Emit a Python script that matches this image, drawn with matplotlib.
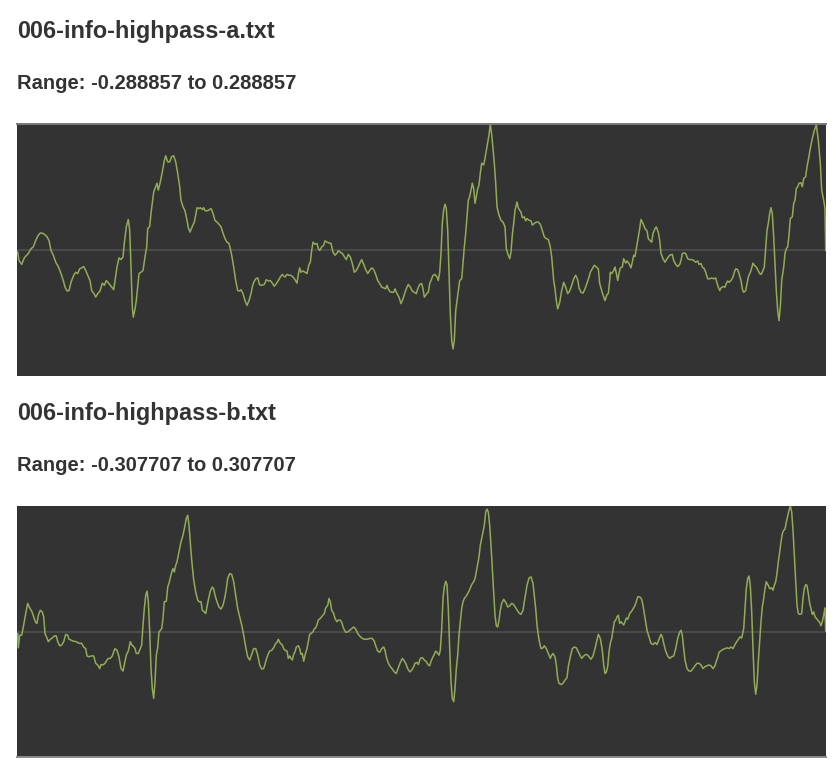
import matplotlib
matplotlib.use("Agg")
import matplotlib.pyplot as plt

# file names and their symmetric ranges
file_names = ["006-info-highpass-a.txt", "006-info-highpass-b.txt"]
ranges = [0.288857, 0.307707]

# samples: position (sample index) and amplitude
a_t = [0.7, 2, 4.7, 7.3, 11.3, 14, 16.3, 18.7, 21.3, 23.3,
       26.3, 29.7, 32, 34, 36.3, 38.7, 41.3, 44, 46.3, 48,
       50, 52, 54, 56.7, 58.7, 60.7, 62.7, 64.7, 66.7, 68.7,
       70.7, 73, 74.7, 76.7, 78.7, 80.7, 83, 85.3, 87.3, 89.3,
       92, 94.7, 96.7, 98, 100, 102, 104, 106, 107.3, 109.3,
       111.3, 112.7, 114, 115.3, 116.3, 118, 119.3, 120.7, 122, 124,
       126, 128, 129.7, 130.7, 132.7, 134, 135.3, 136.7, 138, 140,
       141.3, 143.3, 145.3, 147.3, 148.7, 150.7, 152.7, 154.7, 156.7, 158.7,
       160.7, 162.7, 164, 166, 168, 170, 171.3, 173, 174.7, 177.3,
       178.7, 180, 182, 183.3, 185.3, 186.7, 188, 190.7, 192.7, 194,
       196, 198, 200, 202, 204, 206, 208, 210, 212, 213.3,
       214.7, 216.7, 218.7, 220.7, 222.7, 224, 226, 228, 230, 232,
       234, 235.3, 236.7, 238.7, 240.7, 242.7, 244.7, 247.3, 249.3, 251.3,
       253.3, 255.3, 257.3, 259.3, 261.3, 263.3, 265.3, 267.3,
       268, 270, 272, 274, 276, 278, 280, 281.3, 282.7, 284,
       286, 288, 290, 292, 293.3, 294.7, 296, 298, 300, 301.3,
       302.7, 304.7, 306.7, 308, 310, 312, 314, 316, 318, 320,
       321.3, 323.3, 325.3, 327.3, 329.3, 331.3, 333.3, 335.3, 337.3, 339.3,
       341.3, 343.3, 344.7, 346.7, 348.7, 350.7, 352.7, 354.7, 356.7, 358.7,
       360.7, 362.7, 364.7, 366.7, 368.7, 370, 371.3, 372.7, 374.7, 376.7,
       378, 380, 382, 384, 386, 388, 390, 391.3, 393.3, 395.3,
       397.3, 399.3, 400.7, 402.7, 404.7, 406, 407.3, 408.7, 410, 411.3,
       412.7, 414, 416, 418, 420, 421.3, 422.7, 424, 425.3, 426.7,
       428, 429.3, 430.7, 432, 433.3, 434.7, 436, 437.3, 438.7, 440,
       441.3, 442.7, 444.7, 446, 447.3, 448.7, 450, 451.3, 452.7, 454,
       455.3, 456.7, 458, 459.3, 460.7, 462, 463.3, 464.7, 466.7, 468,
       470, 472, 473.3, 474.7, 476, 477.3, 478.7, 480, 482, 484,
       486, 488, 489.3, 490.7, 492.7, 494, 495.3, 496.7, 498, 500,
       501.3, 502.7, 504, 505.3, 507.3, 508.7, 510, 512, 514, 515.3,
       517.3, 519.3, 521.3, 523.3, 525.3, 527.3, 529.3, 531.3, 533.3, 534.7,
       536.7,
       538, 539.3, 540.7, 542.7, 544.7, 546.7, 548.7, 550.7, 552.7, 554.7,
       556.7, 558.7, 560.7, 562, 564, 566, 568, 570, 572, 573.3,
       575.3, 577.3, 579.3, 581.3, 582.7, 584.7, 586.7, 588, 590, 591.3,
       592.7, 593.3, 594.7, 596.7, 598, 599.3, 600.7, 602, 603.3, 605.3,
       606.7, 608.7, 610, 612, 614, 615.3, 616.7, 618, 619.3, 620.7,
       622.7, 624, 626, 628, 630, 631.3, 633.3, 634.7, 636, 638,
       639.3, 641.3, 642.7, 644, 646, 648, 650, 652.7, 655.3, 656.7,
       658.7, 660.7, 662.7, 664, 665.3, 667.3, 668.7, 670.7, 672.7, 674.7,
       676.7, 678.7, 680.7, 682, 684, 685.3, 687.3, 688.7, 690.7, 692.7,
       694.7, 696.7, 698.7, 700, 701.3, 702.7, 704, 706, 708, 709.3,
       710.7, 712, 714, 716, 717.3, 718.7, 720.7, 722, 724, 725.3,
       726.7, 728.7, 730, 731.3, 732.7, 734, 736, 737.3, 739.3, 740.7,
       742.7, 744, 745.3, 747.3, 748.7, 750, 751.3, 752.7, 754, 755.3,
       756.7, 758, 759.3, 760.7, 762, 763.3, 764.7, 766.7, 768, 769.3,
       770.7, 772, 773.3, 775.3, 776.7, 778, 779.3, 780.7, 782, 784,
       785.3, 786.7, 788.7, 790, 791.3, 793.3, 795.3, 797.3, 799.3, 801.3,
       803.3, 804.7, 806.7, 808, 808.7]

a_v = [-0.005, -0.024, -0.033, -0.018, -0.008, 0.003, 0.007, 0.022, 0.034, 0.039,
       0.038, 0.031, 0.022, -0.001, -0.012, -0.028, -0.038, -0.054, -0.070, -0.085,
       -0.094, -0.093, -0.074, -0.058, -0.051, -0.054, -0.043, -0.041, -0.038, -0.047,
       -0.058, -0.070, -0.093, -0.099, -0.108, -0.100, -0.094, -0.076, -0.081, -0.070,
       -0.077, -0.085, -0.091, -0.070, -0.039, -0.018, -0.022, -0.016, 0.015, 0.053,
       0.070, 0.045, -0.039, -0.131, -0.154, -0.135, -0.116, -0.085, -0.054, -0.051,
       -0.047, -0.016, 0.007, 0.049, 0.054, 0.084, 0.107, 0.133, 0.141, 0.153,
       0.137, 0.156, 0.179, 0.205, 0.216, 0.202, 0.202, 0.214, 0.216, 0.202,
       0.176, 0.145, 0.114, 0.099, 0.090, 0.068, 0.051, 0.041, 0.051, 0.064,
       0.080, 0.097, 0.095, 0.097, 0.093, 0.097, 0.090, 0.090, 0.093, 0.095,
       0.084, 0.068, 0.064, 0.059, 0.053, 0.039, 0.026, 0.018, 0.015, 0.003,
       -0.012, -0.039, -0.070, -0.093, -0.094, -0.091, -0.100, -0.116, -0.127, -0.116,
       -0.100, -0.085, -0.074, -0.066, -0.064, -0.080, -0.081, -0.079, -0.068, -0.071,
       -0.070, -0.076, -0.083, -0.077, -0.070, -0.062, -0.056, -0.061,
       -0.062, -0.056, -0.058, -0.058, -0.062, -0.068, -0.076, -0.056, -0.041, -0.051,
       -0.048, -0.051, -0.054, -0.033, -0.028, -0.001, 0.018, 0.013, 0.015, 0.003,
       -0.001, 0.007, 0.011, 0.021, 0.018, 0.016, 0.015, -0.005, -0.012, -0.007,
       -0.002, -0.005, -0.008, -0.015, -0.022, -0.010, -0.016, -0.031, -0.051, -0.047,
       -0.038, -0.028, -0.022, -0.033, -0.045, -0.054, -0.047, -0.041, -0.045, -0.056,
       -0.070, -0.077, -0.085, -0.087, -0.089, -0.081, -0.089, -0.095, -0.097, -0.097,
       -0.089, -0.100, -0.108, -0.123, -0.112, -0.097, -0.085, -0.079, -0.085, -0.094,
       -0.097, -0.100, -0.089, -0.079, -0.077, -0.089, -0.108, -0.104, -0.099, -0.097,
       -0.077, -0.070, -0.058, -0.056, -0.062, -0.070, -0.051, -0.008, 0.061, 0.093,
       0.105, 0.095, 0.045, -0.047, -0.146, -0.208, -0.227, -0.208, -0.139, -0.116,
       -0.093, -0.070, -0.066, -0.031, 0.007, 0.038, 0.076, 0.114, 0.123, 0.137,
       0.153, 0.141, 0.107, 0.122, 0.141, 0.149, 0.176, 0.199, 0.195, 0.210,
       0.237, 0.264, 0.2889, 0.264, 0.233, 0.199, 0.153, 0.099, 0.080, 0.068,
       0.064, 0.053, 0.003, -0.008, -0.020, -0.005, 0.034, 0.061, 0.091, 0.110,
       0.097, 0.091, 0.087, 0.074, 0.076, 0.067, 0.072, 0.068, 0.067, 0.057,
       0.061, 0.064, 0.064, 0.059, 0.045, 0.030, 0.026, 0.024, 0.007, -0.016,
       -0.070,
       -0.089, -0.116, -0.135, -0.120, -0.093, -0.074, -0.085, -0.100, -0.094, -0.081,
       -0.066, -0.058, -0.068, -0.087, -0.097, -0.099, -0.089, -0.076, -0.062, -0.051,
       -0.043, -0.035, -0.039, -0.043, -0.077, -0.093, -0.108, -0.116, -0.102, -0.100,
       -0.070, -0.051, -0.054, -0.047, -0.039, -0.053, -0.070, -0.054, -0.041, -0.039,
       -0.020, -0.030, -0.025, -0.031, -0.041, -0.028, -0.012, -0.015, 0.003, 0.022,
       0.049, 0.070, 0.061, 0.049, 0.044, 0.026, 0.021, 0.018, 0.038, 0.049,
       0.053, 0.041, 0.022, -0.008, -0.020, -0.028, -0.020, -0.012, -0.010, -0.024,
       -0.033, -0.038, -0.033, -0.024, -0.008, -0.007, -0.008, -0.020, -0.022, -0.022,
       -0.024, -0.028, -0.025, -0.033, -0.031, -0.039, -0.043, -0.051, -0.066, -0.066,
       -0.064, -0.066, -0.064, -0.076, -0.085, -0.093, -0.087, -0.084, -0.085, -0.077,
       -0.071, -0.074, -0.070, -0.062, -0.051, -0.043, -0.045, -0.054, -0.070, -0.089,
       -0.097, -0.093, -0.077, -0.062, -0.054, -0.047, -0.030, -0.035, -0.039, -0.045,
       -0.054, -0.056, -0.051, -0.039, 0.003, 0.045, 0.061, 0.084, 0.097, 0.084,
       0.030, -0.031, -0.093, -0.139, -0.162, -0.131, -0.070, -0.039, -0.008, 0.003,
       0.007, 0.034, 0.072, 0.076, 0.107, 0.114, 0.141, 0.145, 0.153, 0.154,
       0.145, 0.164, 0.168, 0.191, 0.206, 0.233, 0.256, 0.274, 0.287, 0.252,
       0.199, 0.137, 0.114, 0.095, -0.001]

b_t = [0.7, 1.3, 2.7, 4.7, 6.7, 8.7, 10.7, 12.7, 14.7, 16.7,
       18.7, 20, 21.3, 23.3, 25.3, 26.7, 28, 30, 31.3, 33.3,
       35.3, 37.3, 39.3, 40.7, 42.7, 44.7, 46.7, 48.7, 50.7, 52,
       54, 56.7, 59.3, 62, 64.7, 66.7, 68.7, 70, 72, 74,
       76.7, 78.7, 80.7, 82.7, 84, 86, 88, 90, 91.3, 93.3,
       95.3, 96.7, 98, 100, 102, 104, 106, 107.3, 109.3, 111.3,
       113.3, 114.7, 116, 118, 119.3, 121.3, 123.3, 124.7, 126, 127.3,
       128.7, 130, 131.3, 132.7, 134, 135.3, 136.7, 138, 139.3, 140.7,
       142, 143.3, 144.7, 146, 147.3, 149.3, 150.7, 152, 153.3, 154.7,
       156, 157.3, 158.7, 160, 161.3, 162.7, 164, 166, 168, 169.3,
       170.7, 172, 173.3, 174.7, 176.7, 178.7, 180.7, 182, 184, 185.3,
       187.3, 188.7, 190, 191.3, 193.3, 195.3, 196.7, 198, 200, 202,
       204, 206, 208, 209.3, 210.7, 212.7, 214.7, 216.7, 218, 219.3,
       220.7, 222.7, 224.7, 226.7, 228.7, 230.7, 232.7, 234.7, 236.7, 238.7,
       240.7, 242.7, 244.7, 246.7, 248.7, 250.7, 252.7, 254.7, 256.7, 258.7,
       260, 261.3, 263.3, 265.3, 266.7,
       268, 270, 271.3, 272.7, 274, 275.3, 276.7, 278, 279.3, 281.3,
       282.7, 284, 285.3, 286.7, 288, 290, 291.3, 292.7, 294, 296,
       297.3, 298.7, 300, 301.3, 303.3, 305.3, 307.3, 308.7, 310.7, 312,
       313.3, 314.7, 316.7, 318, 320, 321.3, 323.3, 324.7, 326.7, 328.7,
       330.7, 332.7, 334.7, 336.7, 338.7, 340.7, 342.7, 344.7, 347.3, 350,
       352.7, 355.3, 357.3, 358.7, 360.7, 362.7, 364.7, 366.7, 368, 369.3,
       371.3, 373.3, 375.3, 377.3, 379.3, 381.3, 383.3, 385.3, 386.7, 388.7,
       390.7, 392.7, 394.7, 396.7, 398, 400, 401.3, 403.3, 405.3, 407.3,
       409.3, 411.3, 412.7, 414, 416, 417.3, 418.7, 420, 422, 423.3,
       424.7, 426, 427.3, 428.7, 430, 431.3, 432.7, 434, 435.3, 436.7,
       438, 439.3, 440.7, 442, 443.3, 444.7, 446, 447.3, 449.3, 450.7,
       452, 453.3, 454.7, 456.7, 458, 459.3, 460.7, 462, 463.3, 464.7,
       466, 467.3, 468.7, 470, 471.3, 472.7, 474, 475.3, 476.7, 478,
       479.3, 480.7, 482, 483.3, 484.7, 486.7, 488, 489.3, 490.7, 492.7,
       494.7, 496.7, 498.7, 500.7, 502.7, 504, 506, 507.3, 508.7, 510,
       512, 514, 516, 517.3, 518.7, 520, 521.3, 522.7, 524, 526,
       527.3, 529.3, 531.3, 533.3, 534.7, 536,
       538, 539.3, 540.7, 542, 544, 546, 548, 550, 551.3, 553.3,
       555.3, 557.3, 559.3, 561.3, 563.3, 564.7, 566.7, 568.7, 570.7, 572.7,
       574, 576, 578, 580, 581.3, 583.3, 585.3, 586.7, 588, 589.3,
       590.7, 592, 593.3, 594.7, 596, 597.3, 598.7, 600, 601.3, 602.7,
       604, 605.3, 606.7, 608, 609.3, 610.7, 612.7, 614.7, 616.7, 618,
       619.3, 620.7, 622.7, 624.7, 626, 627.3, 628.7, 630, 632, 634,
       636, 638, 640, 642, 644, 645.3, 646.7, 648.7, 650.7, 652.7,
       654.7, 656.7, 658.7, 660.7, 662.7, 664, 665.3, 666.7, 668, 670,
       672, 674, 676, 678, 680, 682, 684, 686, 688, 690,
       692, 694, 696, 698, 699.3, 700.7, 702, 704, 706, 708,
       710, 712, 714, 716, 718, 720, 722, 723.3, 724.7, 726.7,
       728, 729.3, 730.7, 732, 733.3, 734.7, 736, 737.3, 738.7, 740,
       741.3, 742.7, 744, 745.3, 746.7, 748, 749.3, 751.3, 752.7, 754.7,
       756, 757.3, 758.7, 760, 761.3, 762.7, 764, 765.3, 766.7, 768,
       769.3, 770.7, 772, 773.3, 774.7, 776, 777.3, 778.7, 780, 781.3,
       782.7, 784.7, 786, 787.3, 788.7, 790, 791.3, 792.7, 794, 795.3,
       796.7, 798, 799.3, 800.7, 802.7, 804, 805.3, 806.7, 808, 808.7]

b_v = [-0.005, -0.040, -0.009, -0.009, 0.016, 0.044, 0.069, 0.058, 0.050, 0.036,
       0.022, 0.020, 0.040, 0.052, 0.048, 0.036, -0.005, -0.016, -0.025, -0.019,
       -0.016, -0.011, -0.011, -0.025, -0.035, -0.033, -0.025, -0.007, -0.009, -0.019,
       -0.021, -0.024, -0.025, -0.029, -0.029, -0.038, -0.042, -0.060, -0.062, -0.060,
       -0.060, -0.078, -0.082, -0.091, -0.081, -0.082, -0.078, -0.070, -0.066, -0.066,
       -0.060, -0.050, -0.042, -0.046, -0.062, -0.091, -0.097, -0.082, -0.058, -0.048,
       -0.025, -0.033, -0.035, -0.042, -0.054, -0.054, -0.042, -0.033, 0.016, 0.056,
       0.089, 0.099, 0.073, -0.001, -0.091, -0.140, -0.164, -0.123, -0.058, -0.040,
       -0.001, 0.003, 0.007, 0.032, 0.073, 0.074, 0.109, 0.118, 0.131, 0.146,
       0.154, 0.146, 0.162, 0.171, 0.187, 0.203, 0.220, 0.236, 0.260, 0.277,
       0.285, 0.260, 0.220, 0.175, 0.126, 0.097, 0.077, 0.073, 0.073, 0.052,
       0.048, 0.044, 0.060, 0.077, 0.099, 0.109, 0.104, 0.089, 0.073, 0.060,
       0.055, 0.064, 0.085, 0.105, 0.130, 0.142, 0.140, 0.122, 0.101, 0.081,
       0.056, 0.036, 0.016, -0.009, -0.038, -0.062, -0.070, -0.056, -0.042, -0.042,
       -0.058, -0.082, -0.092, -0.091, -0.074, -0.058, -0.048, -0.046, -0.040, -0.029,
       -0.027, -0.019, -0.029, -0.033, -0.042,
       -0.046, -0.048, -0.066, -0.060, -0.066, -0.070, -0.056, -0.050, -0.038, -0.035,
       -0.042, -0.056, -0.054, -0.073, -0.058, -0.042, -0.025, -0.007, -0.005, -0.001,
       0.007, 0.009, 0.017, 0.028, 0.032, 0.038, 0.044, 0.058, 0.064, 0.081,
       0.073, 0.052, 0.044, 0.032, 0.024, 0.028, 0.028, 0.022, 0.007, -0.002,
       -0.001, 0.003, 0.007, 0.011, 0.006, -0.005, -0.011, -0.016, -0.019, -0.019,
       -0.017, -0.017, -0.024, -0.035, -0.048, -0.051, -0.042, -0.038, -0.046, -0.062,
       -0.078, -0.086, -0.092, -0.099, -0.103, -0.089, -0.076, -0.066, -0.070, -0.078,
       -0.091, -0.099, -0.095, -0.086, -0.078, -0.076, -0.081, -0.066, -0.064, -0.070,
       -0.074, -0.082, -0.084, -0.073, -0.062, -0.056, -0.048, -0.051, -0.058, -0.046,
       0.007, 0.081, 0.109, 0.123, 0.115, 0.056, -0.042, -0.123, -0.164, -0.172,
       -0.140, -0.091, -0.058, -0.009, 0.024, 0.056, 0.073, 0.081, 0.087, 0.093,
       0.099, 0.107, 0.115, 0.122, 0.130, 0.146, 0.166, 0.183, 0.211, 0.228,
       0.244, 0.260, 0.293, 0.300, 0.293, 0.260, 0.211, 0.154, 0.097, 0.040,
       0.014, 0.011, 0.028, 0.052, 0.069, 0.079, 0.074, 0.069, 0.060, 0.063,
       0.069, 0.066, 0.058, 0.050, 0.044, 0.042, 0.052, 0.073, 0.093, 0.113,
       0.131, 0.134, 0.118, 0.089, 0.056, 0.016, -0.009, -0.029, -0.042, -0.040,
       -0.035, -0.042, -0.054, -0.066, -0.058, -0.054,
       -0.062, -0.082, -0.115, -0.127, -0.130, -0.127, -0.119, -0.113, -0.086, -0.062,
       -0.042, -0.038, -0.040, -0.050, -0.060, -0.066, -0.060, -0.056, -0.058, -0.064,
       -0.068, -0.060, -0.042, -0.021, -0.007, -0.017, -0.046, -0.082, -0.103, -0.100,
       -0.086, -0.050, -0.029, -0.017, 0.003, 0.024, 0.028, 0.036, 0.040, 0.020,
       0.024, 0.020, 0.016, 0.024, 0.033, 0.030, 0.044, 0.050, 0.058, 0.064,
       0.073, 0.085, 0.085, 0.079, 0.064, 0.044, 0.024, 0.003, -0.013, -0.029,
       -0.032, -0.027, -0.032, -0.019, -0.007, -0.013, -0.029, -0.048, -0.060, -0.066,
       -0.062, -0.060, -0.042, -0.017, -0.001, 0.003, -0.009, -0.042, -0.070, -0.091,
       -0.097, -0.097, -0.091, -0.084, -0.078, -0.078, -0.082, -0.091, -0.086, -0.084,
       -0.082, -0.084, -0.091, -0.084, -0.073, -0.064, -0.051, -0.047, -0.044, -0.042,
       -0.040, -0.042, -0.038, -0.042, -0.032, -0.024, -0.017, -0.013, -0.016, 0.007,
       0.056, 0.105, 0.130, 0.136, 0.113, 0.048, -0.042, -0.123, -0.154, -0.131,
       -0.074, -0.025, 0.024, 0.060, 0.081, 0.105, 0.122, 0.113, 0.105, 0.107,
       0.101, 0.113, 0.122, 0.142, 0.171, 0.195, 0.220, 0.240, 0.248, 0.251,
       0.268, 0.283, 0.297, 0.3077, 0.293, 0.248, 0.187, 0.126, 0.064, 0.044,
       0.042, 0.044, 0.081, 0.105, 0.115, 0.113, 0.093, 0.069, 0.056, 0.042,
       0.048, 0.036, 0.032, 0.028, 0.022, 0.014, 0.024, 0.040, 0.058, 0.001]

n_samples = 809

W, H = 837, 778
fig = plt.figure(figsize=(W / 100, H / 100), dpi=100)
fig.patch.set_facecolor("white")

text_color = "#333333"
font = "Liberation Sans"
wave_color = "#93ab55"

# panel geometry in pixels: (top, bottom)
panels = [(124, 376), (506, 757)]
series = [(a_t, a_v), (b_t, b_v)]

for i, ((top, bottom), (ts, vs)) in enumerate(zip(panels, series)):
    ax = fig.add_axes([17 / W, 1 - bottom / H, 809 / W, (bottom - top) / H])
    ax.set_facecolor("#333333")
    ax.plot(ts, vs, color=wave_color, lw=1.1, solid_joinstyle="round")
    ax.axhline(0, color="#4e4e4e", lw=1.2, zorder=1)
    ax.set_xlim(0, n_samples)
    ax.set_ylim(-ranges[i], ranges[i])
    ax.set_xticks([])
    ax.set_yticks([])
    for side in ["left", "right", "top", "bottom"]:
        ax.spines[side].set_visible(False)
    if i == 0:
        ax.spines["top"].set_visible(True)
        ax.spines["top"].set_color("#7a7a7a")
        ax.spines["top"].set_linewidth(1.4)
    else:
        ax.spines["bottom"].set_visible(True)
        ax.spines["bottom"].set_color("#8a8a8a")
        ax.spines["bottom"].set_linewidth(1.4)

    # heading and range text above each panel
    fig.text(17 / W, 1 - (top - 86) / H, file_names[i], fontsize=16.9,
             fontweight="bold", family=font, color=text_color, va="baseline")
    fig.text(17 / W, 1 - (top - 35) / H,
             f"Range: {-ranges[i]:.6f} to {ranges[i]:.6f}", fontsize=14.5,
             fontweight="bold", family=font, color=text_color, va="baseline")

fig.savefig("out.png", dpi=100, facecolor="white")
